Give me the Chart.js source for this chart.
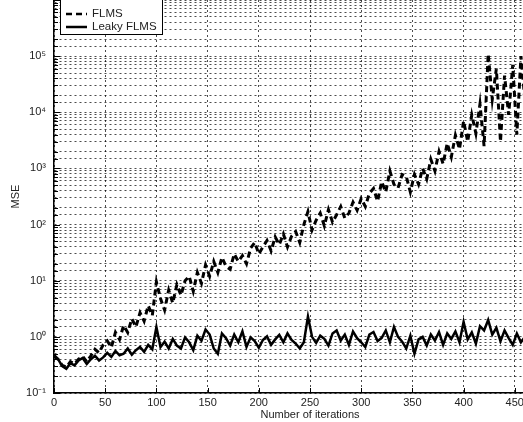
<!DOCTYPE html>
<html>
<head>
<meta charset="utf-8">
<script src="https://cdn.jsdelivr.net/npm/chart.js@4"></script>
<style>
  html, body { margin: 0; padding: 0; background: #fff; overflow: hidden; }
  #wrap { width: 580px; height: 422px; }
</style>
</head>
<body>
<div id="wrap"><canvas id="mseChart" width="580" height="422"></canvas></div>
<script>
// iteration index of each sample
var iterations = [
  0, 4, 8, 12, 16, 20, 24, 28, 32, 36,
  40, 44, 48, 52, 56, 60, 64, 68, 72, 76,
  80, 84, 88, 92, 96, 100, 104, 108, 112, 116,
  120, 124, 128, 132, 136, 140, 144, 148, 152, 156,
  160, 164, 168, 172, 176, 180, 184, 188, 192, 196,
  200, 204, 208, 212, 216, 220, 224, 228, 232, 236,
  240, 244, 248, 252, 256, 260, 264, 268, 272, 276,
  280, 284, 288, 292, 296, 300, 304, 308, 312, 316,
  320, 324, 328, 332, 336, 340, 344, 348, 352, 356,
  360, 364, 368, 372, 376, 380, 384, 388, 392, 396,
  400, 404, 408, 412, 416, 420, 424, 428, 432, 436,
  440, 444, 448, 452, 456, 460
];

// MSE of plain FLMS (diverges)
var flmsMse = [
  0.45, 0.40, 0.31, 0.29, 0.36, 0.33, 0.40, 0.45, 0.36, 0.46,
  0.60, 0.52, 0.72, 0.85, 0.65, 1.20, 0.90, 1.60, 1.20, 2.10,
  1.50, 2.70, 1.90, 3.6, 2.4, 9.5, 4.8, 3.0, 6.8, 4.0,
  8.5, 5.5, 10, 12, 6.5, 14, 9.0, 19, 12, 22,
  14, 26, 18, 16, 30, 22, 28, 20, 38, 48,
  30, 40, 52, 34, 60, 44, 68, 40, 62, 75,
  48, 100, 170, 80, 120, 160, 95, 185, 110, 150,
  210, 130, 160, 250, 180, 290, 210, 360, 440, 260,
  580, 380, 900, 520, 450, 780, 720, 380, 780, 520,
  1000, 650, 1450, 900, 2000, 1200, 2800, 1600, 3900, 2200,
  7000, 3000, 9000, 4200, 14000, 2500, 110000, 17000, 60000, 3000,
  45000, 9000, 70000, 4000, 100000, 15000
];

// MSE of leaky FLMS (stays near 1)
var leakyMse = [
  0.48, 0.40, 0.30, 0.27, 0.34, 0.31, 0.38, 0.42, 0.33, 0.40,
  0.46, 0.38, 0.43, 0.52, 0.44, 0.56, 0.47, 0.50, 0.62, 0.48,
  0.58, 0.66, 0.54, 0.72, 0.60, 1.50, 0.66, 0.82, 0.62, 0.92,
  0.70, 0.62, 0.98, 0.80, 0.58, 1.05, 0.85, 1.35, 1.10, 0.62,
  0.50, 1.15, 0.95, 0.70, 1.10, 0.80, 1.25, 0.66, 0.98, 0.84,
  0.64, 0.88, 1.02, 0.72, 0.90, 1.08, 0.80, 1.15, 0.88, 0.76,
  0.62, 0.80, 2.30, 1.00, 0.78, 1.05, 0.92, 0.70, 1.15, 1.30,
  0.86, 1.10, 0.72, 1.25, 0.95, 0.80, 0.66, 1.10, 1.22, 0.84,
  0.96, 1.30, 0.80, 1.50, 1.00, 0.82, 0.62, 1.05, 0.50, 0.90,
  1.00, 0.70, 1.10, 0.86, 1.22, 0.72, 1.15, 0.92, 1.25, 0.80,
  1.85, 0.90, 1.20, 0.76, 1.55, 1.30, 2.00, 1.10, 1.45, 0.84,
  1.30, 0.95, 0.72, 1.15, 0.80, 1.00
];

var seriesNames = ["FLMS", "Leaky FLMS"];
var xTickStep = 50;
var yDecadeLabels = { "-1": "10\u207B\u00B9", "0": "10\u2070", "1": "10\u00B9", "2": "10\u00B2", "3": "10\u00B3", "4": "10\u2074", "5": "10\u2075" };

var fontFamily = '"Liberation Sans", Arial, Helvetica, sans-serif';
var textColor = "#222";

function toPoints(values) {
  return iterations.map(function (it, i) {
    return { x: it, y: values[i] };
  });
}

function isDecade(v) {
  var l = Math.log10(v);
  return Math.abs(l - Math.round(l)) < 1e-9;
}

// small inward ticks like the original axes
var insideTicks = {
  id: "insideTicks",
  afterDraw: function (chart) {
    var ctx = chart.ctx;
    var area = chart.chartArea;
    var xs = chart.scales.x;
    var ys = chart.scales.y;
    ctx.save();
    ctx.strokeStyle = "#000";
    ctx.lineWidth = 1;
    ctx.beginPath();
    ys.ticks.forEach(function (t) {
      var py = Math.round(ys.getPixelForValue(t.value)) + 0.5;
      var len = isDecade(t.value) ? 6 : 4;
      ctx.moveTo(area.left, py);
      ctx.lineTo(area.left + len, py);
    });
    xs.ticks.forEach(function (t) {
      var px = Math.round(xs.getPixelForValue(t.value)) + 0.5;
      ctx.moveTo(px, area.bottom);
      ctx.lineTo(px, area.bottom - 5);
    });
    ctx.stroke();
    ctx.restore();
  },
};

// boxed legend in the top-left corner of the axes
var boxLegend = {
  id: "boxLegend",
  afterDraw: function (chart) {
    var ctx = chart.ctx;
    var area = chart.chartArea;
    var lx = area.left + 6;
    var ly = area.top - 3;
    var lw = 102;
    var lh = 37;
    ctx.save();
    ctx.fillStyle = "#fff";
    ctx.fillRect(lx, ly, lw, lh);
    ctx.strokeStyle = "#000";
    ctx.lineWidth = 1;
    ctx.strokeRect(lx + 0.5, ly + 0.5, lw, lh);

    var rows = [area.top + 14, area.top + 27];
    chart.data.datasets.forEach(function (ds, i) {
      var y = rows[i];
      ctx.beginPath();
      ctx.lineWidth = 2.5;
      ctx.setLineDash(ds.borderDash || []);
      ctx.moveTo(lx + 6, y);
      ctx.lineTo(lx + 27, y);
      ctx.stroke();
    });
    ctx.setLineDash([]);
    ctx.fillStyle = textColor;
    ctx.font = "11.5px " + fontFamily;
    ctx.textBaseline = "middle";
    ctx.textAlign = "left";
    chart.data.datasets.forEach(function (ds, i) {
      ctx.fillText(ds.label, lx + 32, rows[i]);
    });
    ctx.restore();
  },
};

var ctx = document.getElementById("mseChart").getContext("2d");
new Chart(ctx, {
  type: "line",
  data: {
    datasets: [
      {
        label: seriesNames[0],
        data: toPoints(flmsMse),
        borderColor: "#000",
        borderWidth: 3,
        borderDash: [6, 4],
        pointRadius: 0,
        fill: false,
      },
      {
        label: seriesNames[1],
        data: toPoints(leakyMse),
        borderColor: "#000",
        borderWidth: 2.5,
        pointRadius: 0,
        fill: false,
      },
    ],
  },
  options: {
    responsive: false,
    animation: false,
    layout: { padding: { left: 0, right: 14, top: 0, bottom: 0 } },
    plugins: {
      legend: { display: false },
      tooltip: { enabled: false },
    },
    elements: { line: { tension: 0 } },
    scales: {
      x: {
        type: "linear",
        min: 0,
        max: 500,
        ticks: {
          stepSize: xTickStep,
          includeBounds: false,
          maxRotation: 0,
          color: textColor,
          padding: 3,
          font: { family: fontFamily, size: 11 },
        },
        grid: { color: "rgba(0,0,0,0.7)", lineWidth: 1, drawTicks: false },
        border: { display: true, color: "#000", width: 1.5, dash: [2, 3] },
        title: {
          display: true,
          text: "Number of iterations",
          color: textColor,
          font: { family: fontFamily, size: 11 },
          padding: { top: 0, bottom: 0 },
        },
        afterFit: function (s) {
          s.height = 29;
        },
      },
      y: {
        type: "logarithmic",
        min: 0.1,
        max: 1e6,
        ticks: {
          autoSkip: false,
          color: textColor,
          padding: 8,
          font: { family: fontFamily, size: 11 },
          callback: function (value) {
            var k = String(Math.round(Math.log10(value)));
            if (isDecade(value) && yDecadeLabels[k]) return yDecadeLabels[k];
            return "";
          },
        },
        grid: { color: "rgba(0,0,0,0.7)", lineWidth: 1, drawTicks: false },
        border: { display: true, color: "#000", width: 1.5, dash: [2, 3] },
        title: {
          display: true,
          text: "MSE",
          color: textColor,
          font: { family: fontFamily, size: 11 },
          padding: { top: 9, bottom: 0 },
        },
        afterFit: function (s) {
          s.width = 54;
          s.paddingTop = 0;
          s.paddingBottom = 0;
        },
      },
    },
  },
  plugins: [insideTicks, boxLegend],
});
</script>
</body>
</html>
